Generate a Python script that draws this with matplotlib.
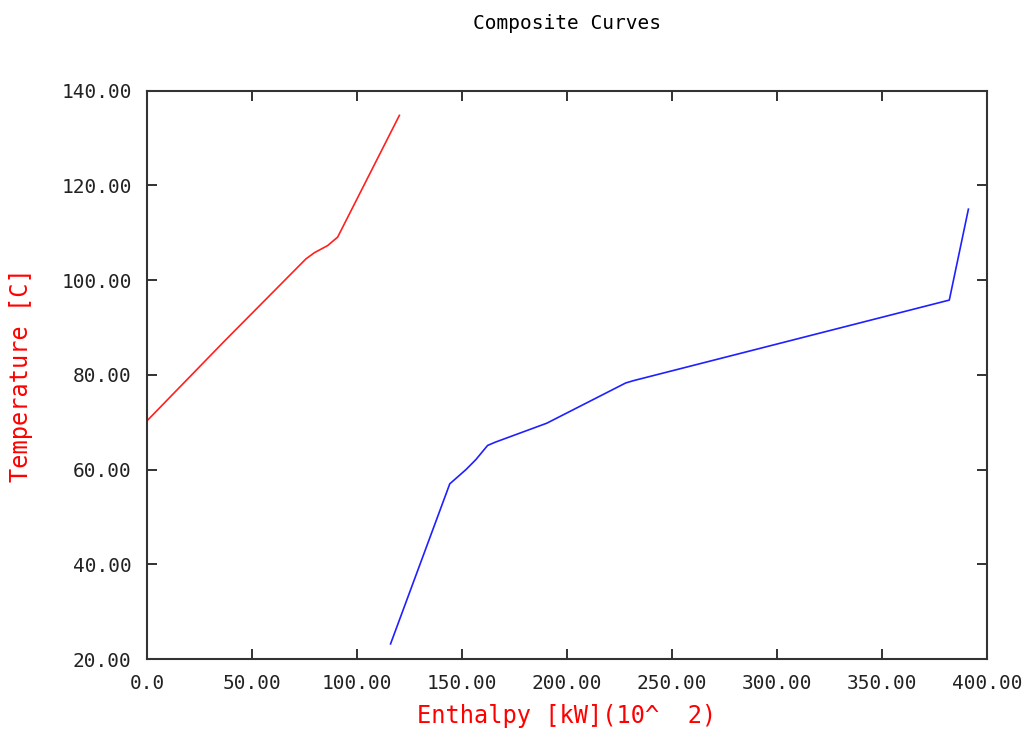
import matplotlib
matplotlib.use('Agg')
import matplotlib.pyplot as plt

#-----------Data----------------------------------

hot_h = [0.0, 36.8, 75.7, 79.7, 86.0, 90.8, 120.2]
hot_t = [70.3, 87.1, 104.5, 105.8, 107.3, 109.1, 134.8]

cold_h = [116.0, 144.2, 151.9, 156.6, 162.2, 165.9, 190.4, 228.0, 231.8, 382.1, 391.2]
cold_t = [23.2, 57.0, 60.0, 62.1, 65.1, 65.8, 69.8, 78.3, 78.8, 95.8, 115.0]

x_ticks = [0, 50, 100, 150, 200, 250, 300, 350, 400]
x_labels = ['0.0', '50.00', '100.00', '150.00', '200.00', '250.00', '300.00', '350.00', '400.00']
y_ticks = [20, 40, 60, 80, 100, 120, 140]
y_labels = ['20.00', '40.00', '60.00', '80.00', '100.00', '120.00', '140.00']

#-----------Figure-------------

plt.rcParams['font.family'] = ['DejaVu Sans Mono']

fig = plt.figure(figsize=(10.28, 7.38), dpi=100)
ax = fig.add_axes([0.143, 0.107, 0.817, 0.770])

ax.plot(hot_h, hot_t, color='#ff2020', linewidth=1.2)
ax.plot(cold_h, cold_t, color='#2020ff', linewidth=1.2)

ax.set_xlim(0, 400)
ax.set_ylim(20, 140)
ax.set_xticks(x_ticks)
ax.set_xticklabels(x_labels)
ax.set_yticks(y_ticks)
ax.set_yticklabels(y_labels)

ax.tick_params(direction='in', length=7, width=1.3, top=True, right=True,
               labelsize=14, colors='#222222')
ax.tick_params(axis='x', pad=11)
ax.tick_params(axis='y', pad=11)
for s in ax.spines.values():
    s.set_linewidth(1.5)
    s.set_color('#333333')

ax.set_xlabel('Enthalpy [kW](10^  2)', color='red', fontsize=17, labelpad=8)
ax.set_ylabel('Temperature [C]', color='red', fontsize=17, labelpad=20)
fig.text(0.5516, 0.968, 'Composite Curves', ha='center', va='center', fontsize=14)

fig.savefig('out.png', dpi=100)
